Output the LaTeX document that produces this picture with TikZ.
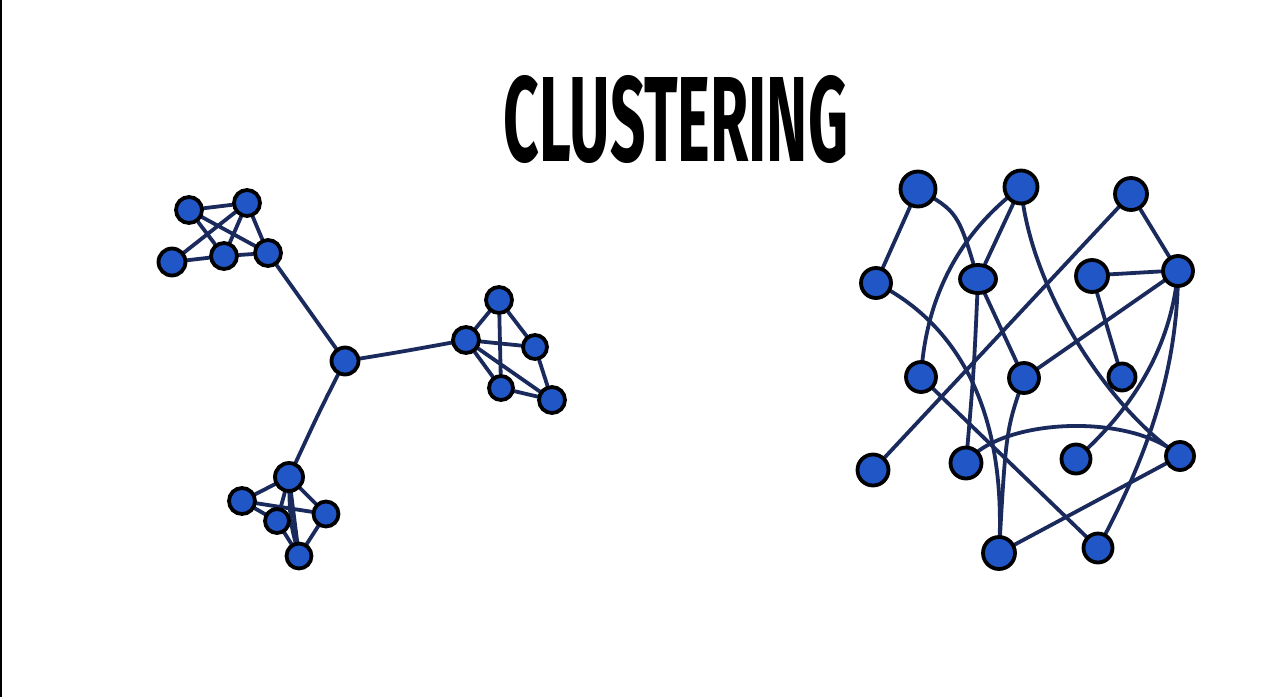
\documentclass[tikz,border=0pt]{standalone}
\usepackage{fontspec}
\setmainfont{Fira Sans}
\usetikzlibrary{backgrounds,shapes.geometric}
\definecolor{edgecol}{HTML}{1B2A5C}
\definecolor{nodefill}{HTML}{2156C6}
\tikzset{
  vtx/.style={circle, draw=black, line width=3.8pt, fill=nodefill, inner sep=0pt, minimum size=#1},
  vtx/.default=24pt,
  lnk/.style={draw=edgecol, line width=3.8pt, line cap=round},
}
\begin{document}
\begin{tikzpicture}[x=1pt,y=-1pt]
\useasboundingbox (0,0) rectangle (1280,697);
% title
\node (title) at (676,119) {\resizebox{344pt}{86pt}{\bfseries CLUSTERING}};
% ---------- left graph ----------
\node[vtx=26pt] (a1) at (189,210) {};
\node[vtx=26pt] (a2) at (247,203) {};
\node[vtx=27pt] (a3) at (172,262) {};
\node[vtx=26pt] (a4) at (224,256) {};
\node[vtx=26pt] (a5) at (268,253) {};
\node[vtx=27pt] (c) at (345,361) {};
\node[vtx=26pt] (b1) at (466,340) {};
\node[vtx=26pt] (b2) at (499,300) {};
\node[vtx=24pt] (b3) at (535,347) {};
\node[vtx=24pt] (b4) at (501,388) {};
\node[vtx=26pt] (b5) at (552,400) {};
\node[vtx=28pt] (d1) at (289,477) {};
\node[vtx=26pt] (d2) at (242,501) {};
\node[vtx=24pt] (d3) at (277,521) {};
\node[vtx=25pt] (d4) at (326,514) {};
\node[vtx=25pt] (d5) at (299,556) {};
% ---------- right graph ----------
\node[vtx=35pt] (A) at (918,189) {};
\node[vtx=33pt] (B) at (1021,187) {};
\node[vtx=32pt] (C) at (1131,194) {};
\node[vtx=30pt] (D) at (876,283) {};
\node[vtx=28pt, ellipse, minimum width=36pt] (E) at (978,279) {};
\node[vtx=32pt] (F) at (1092,276) {};
\node[vtx=30pt] (G) at (1178,271) {};
\node[vtx=30pt] (H) at (921,377) {};
\node[vtx=30pt] (I) at (1024,378) {};
\node[vtx=27pt] (J) at (1122,377) {};
\node[vtx=31pt] (K) at (873,470) {};
\node[vtx=31pt] (L) at (966,463) {};
\node[vtx=29pt] (M) at (1076,459) {};
\node[vtx=28pt] (N) at (1180,456) {};
\node[vtx=32pt] (O) at (999,553) {};
\node[vtx=29pt] (P) at (1098,548) {};
\begin{scope}[on background layer]
\fill[white] (0,0) rectangle (1280,697);
\fill[black] (0,0) rectangle (2,697);
% left cluster edges
\path[lnk] (a1)--(a2) (a1)--(a4) (a1)--(a5) (a2)--(a3) (a2)--(a4) (a2)--(a5) (a3)--(a4) (a4)--(a5);
\path[lnk] (c.center)--(a5.center);
\path[lnk] (c.center) .. controls (400,352) .. (b1.center);
\path[lnk] (c.center) .. controls (320,410) .. (d1.center);
\path[lnk] (b1)--(b2) (b2)--(b3) (b2)--(b4) (b1)--(b3) (b1)--(b4) (b1)--(b5) (b3)--(b5) (b4)--(b5);
\path[lnk] (d1)--(d2) (d2)--(d4) (d1)--(d3) (d1)--(d4) (d2)--(d3) (d3)--(d5) (d4)--(d5);
\path[lnk] (d1.center)--(d5.center);
\path[lnk] (d1.center) .. controls (290,522) .. (d5.center);
% right graph edges
\path[lnk] (A)--(D);
\path[lnk] (A.center) .. controls (958,212) .. (E.center);
\path[lnk] (E.center)--(I.center);
\path[lnk] (B)--(E);
\path[lnk] (B.center) .. controls (950,240) and (925,310) .. (H.center);
\path[lnk] (B.center) .. controls (1030,290) and (1110,410) .. (N.center);
\path[lnk] (C)--(K);
\path[lnk] (C)--(G);
\path[lnk] (F) .. controls (1135,272) .. (G);
\path[lnk] (F)--(J);
\path[lnk] (G.center)--(I.center);
\path[lnk] (G.center) .. controls (1170,360) and (1120,420) .. (M.center);
\path[lnk] (G.center) .. controls (1178,380) and (1140,470) .. (P.center);
\path[lnk] (E.center) .. controls (974,370) .. (L.center);
\path[lnk] (L.center) .. controls (1000,418) and (1130,412) .. (N.center);
\path[lnk] (D.center) .. controls (950,320) and (1008,400) .. (O.center);
\path[lnk] (I.center) .. controls (1006,430) .. (O.center);
\path[lnk] (H.center)--(P.center);
\path[lnk] (N.center)--(O.center);
\end{scope}
\end{tikzpicture}
\end{document}
